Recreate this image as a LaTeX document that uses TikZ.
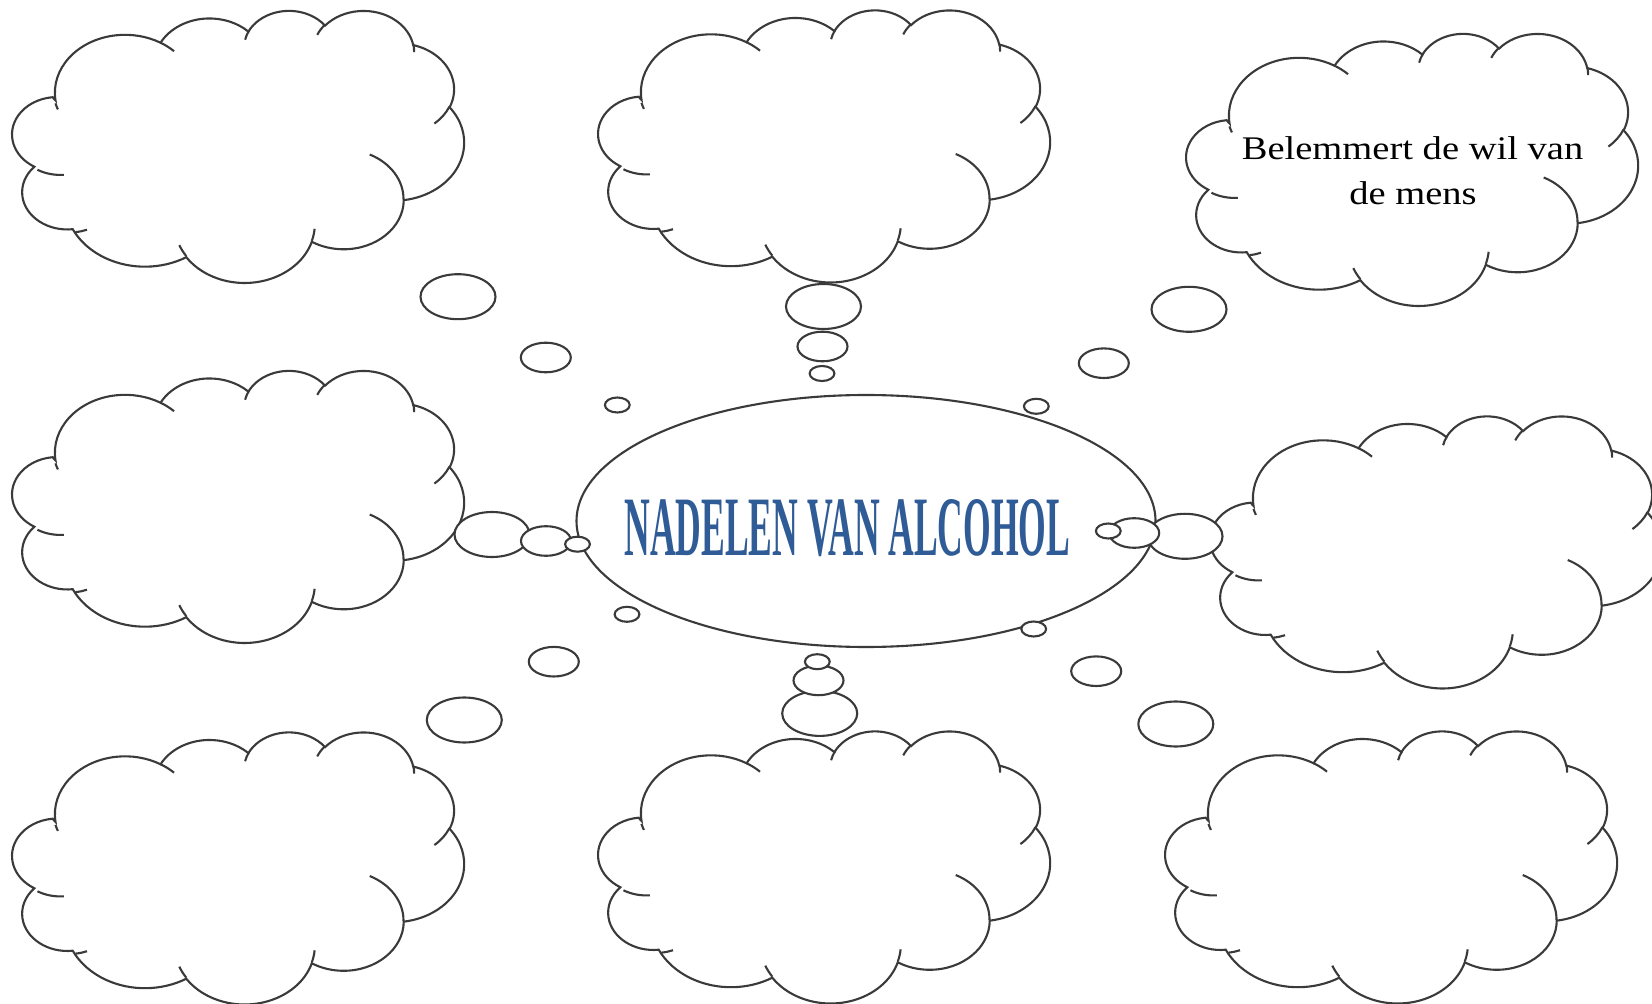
\documentclass[tikz,border=0pt]{standalone}
\usepackage{fontspec}
\setmainfont{Liberation Serif}
\usepackage{graphicx}
\definecolor{titleblue}{RGB}{47,91,150}
\definecolor{linegray}{RGB}{58,58,58}

% elliptical arc given as in OOXML (visual angles) -> TikZ arc style
\newcommand\mkarc[5]{%
  \pgfmathsetmacro\tmpA{atan2((#2)*sin(#4),(#3)*cos(#4))}%
  \pgfmathsetmacro\tmpB{atan2((#2)*sin((#4)+(#5)),(#3)*cos((#4)+(#5)))}%
  \pgfmathsetmacro\tmpD{mod(\tmpB-\tmpA+720,360)}%
  \edef\tmpC{\noexpand\tikzset{#1/.style={start angle=\tmpA,delta angle=\tmpD,x radius=#2,y radius=#3}}}%
  \tmpC}
\mkarc{ca1}{67.53}{91.90}{-190.48748}{123.78053}
\mkarc{ca2}{53.33}{72.67}{-144.10238}{89.94523}
\mkarc{ca3}{43.65}{59.45}{-145.80792}{99.72302}
\mkarc{ca4}{48.57}{65.95}{-130.98607}{117.24173}
\mkarc{ca5}{53.33}{72.73}{-78.70888}{109.02692}
\mkarc{ca6}{67.75}{92.20}{-46.26725}{130.26900}
\mkarc{ca7}{57.85}{78.67}{0.62502}{114.03333}
\mkarc{ca8}{67.52}{92.15}{22.45160}{115.17255}
\mkarc{ca9}{77.20}{105.43}{66.24263}{80.31380}
\mkarc{ca10}{43.60}{59.18}{-274.94208}{146.73708}
\mkarc{ca11}{43.45}{59.45}{-246.82850}{152.52248}
\mkarc{cb1}{43.45}{59.45}{86.74200}{26.42950}
\mkarc{cb2}{43.60}{59.18}{73.61047}{11.44747}
\mkarc{cb3}{67.52}{92.15}{137.62415}{14.08110}
\mkarc{cb4}{67.52}{92.15}{6.45327}{15.99835}
\mkarc{cb5}{57.85}{78.67}{-70.29235}{70.91737}
\mkarc{cb6}{53.33}{72.73}{30.31803}{27.75150}
\mkarc{cb7}{48.57}{65.95}{-13.74433}{14.85890}
\mkarc{cb8}{48.57}{65.95}{-149.18145}{18.19537}
\mkarc{cb9}{43.65}{59.45}{-163.49427}{17.68635}
\mkarc{cb10}{67.53}{91.90}{-66.70695}{12.31935}
\mkarc{cb11}{67.53}{91.90}{151.83675}{7.90075}

\tikzset{
  outline/.style={draw=linegray, line width=1.05pt},
  cloudfill/.style={outline, fill=white},
  bubble/.style={outline, fill=white},
}

% cloud: left, top, width, height (px)
\newcommand\cloudshape[4]{%
  \pgfmathsetmacro\cux{#3/864}%
  \pgfmathsetmacro\cuy{#4/864}%
  \begin{scope}[shift={(#1,#2)}, x=\cux pt, y=-\cuy pt]
    \draw[cloudfill] (39.00,143.70) arc[ca1] arc[ca2] arc[ca3] arc[ca4] arc[ca5]
      arc[ca6] arc[ca7] arc[ca8] arc[ca9] arc[ca10] arc[ca11] -- cycle;
    \draw[outline] (46.93,261.77) arc[cb1] (69.28,348.99) arc[cb2]
      (164.78,390.90) arc[cb3] (288.27,347.51) arc[cb4]
      (341.29,229.54) arc[cb5] (417.98,153.54) arc[cb6]
      (383.24,54.26) arc[cb7] (290.78,39.52) arc[cb8]
      (221.41,47.20) arc[cb9] (140.00,51.92) arc[cb10]
      (41.27,157.89) arc[cb11];
  \end{scope}}

% tail of three bubbles: large, medium, small centres
\newcommand\tail[6]{%
  \draw[bubble] (#1,#2) ellipse [x radius=37.5, y radius=22.5];
  \draw[bubble] (#3,#4) ellipse [x radius=25, y radius=14.8];
  \draw[bubble] (#5,#6) ellipse [x radius=12.4, y radius=7.5];}

\begin{document}
\begin{tikzpicture}[x=0.5pt, y=-0.5pt]
\useasboundingbox (0,0) rectangle (1652,1004);
\clip (0,0) rectangle (1652,1004);

% clouds
\cloudshape{15}{10}{449}{272}
\cloudshape{601}{9.5}{449}{272}
\cloudshape{1189}{33}{449}{272}
\cloudshape{15}{370}{449}{272}
\cloudshape{1213}{415.5}{449}{272}
\cloudshape{15}{731.5}{449}{272}
\cloudshape{601}{730.5}{449}{272}
\cloudshape{1168}{730.5}{449}{272}

% central ellipse
\draw[outline, fill=white] (866,521) ellipse [x radius=289.5, y radius=126];

% bubble tails
\tail{458}{296.7}{545.8}{357.5}{617.3}{405}
\tail{823.5}{306.5}{822.5}{346.5}{822}{373.5}
\tail{1189}{309.3}{1103.8}{363.2}{1036.3}{406.3}
\tail{492}{534.5}{546}{541}{577.5}{544.2}
\tail{1185}{536.3}{1134.2}{533}{1108.3}{531}
\tail{464.3}{720}{553.8}{661.7}{627}{614.3}
\tail{819.7}{713.4}{818.5}{680.4}{817.3}{661.7}
\tail{1175.8}{724}{1096.2}{671.2}{1033.7}{629}

% texts
\node[anchor=base west, inner sep=0, text=titleblue] (title) at (624,555)
  {\resizebox{223pt}{28pt}{\bfseries NADELEN VAN ALCOHOL}};
\node[anchor=base, inner sep=0] (t1) at (1412.5,160)
  {\fontsize{16.5pt}{20pt}\selectfont\scalebox{1.168}[1]{Belemmert de wil van}};
\node[anchor=base, inner sep=0] (t2) at (1413,204.3)
  {\fontsize{16.5pt}{20pt}\selectfont\scalebox{1.168}[1]{de mens}};
\end{tikzpicture}
\end{document}
